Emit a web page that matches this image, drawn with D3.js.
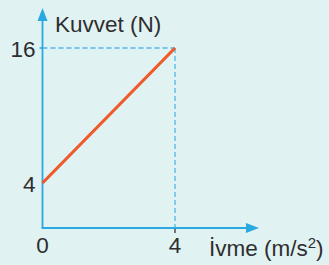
<!DOCTYPE html>
<html>
<head>
<meta charset="utf-8">
<script src="https://cdn.jsdelivr.net/npm/d3@7"></script>
<style>
body{margin:0;background:#e1f2f3;}
svg{display:block;}
text{font-family:"Liberation Sans",Arial,sans-serif;fill:#2e2e2e;}
</style>
</head>
<body>
<svg id="chart" width="329" height="265"></svg>
<script>
// data
let accel = [0, 4]
let force = [4, 16]
let xTicks = [0, 4]
let yTicks = [4, 16]
let xLabel = "İvme (m/s²)"
let yLabel = "Kuvvet (N)"

let axisColor = "#2aa8e0"
let svg = d3.select("#chart")

let xScale = d3.scaleLinear().domain([0, 4]).range([42.5, 175])
let yScale = d3.scaleLinear().domain([0, 16]).range([228, 48])

let x0 = xScale(0), y0 = yScale(0)

// dashed guides
let last = accel.length-1
svg.append("line")
    .attr("x1",x0).attr("x2",xScale(accel[last]))
    .attr("y1",yScale(force[last])).attr("y2",yScale(force[last]))
    .attr("stroke","#4cb8e8").attr("stroke-width",1.3).attr("stroke-dasharray","5,3")
svg.append("line")
    .attr("x1",xScale(accel[last])).attr("x2",xScale(accel[last]))
    .attr("y1",yScale(force[last])).attr("y2",y0)
    .attr("stroke","#4cb8e8").attr("stroke-width",1.3).attr("stroke-dasharray","5,3")

// axes
svg.append("line").attr("x1",x0).attr("y1",y0).attr("x2",x0).attr("y2",12)
    .attr("stroke",axisColor).attr("stroke-width",1.8)
svg.append("path").attr("d",`M${x0-5},${21} L${x0},${8} L${x0+5},${21} z`).attr("fill",axisColor)
svg.append("line").attr("x1",x0-0.9).attr("y1",y0).attr("x2",252).attr("y2",y0)
    .attr("stroke",axisColor).attr("stroke-width",1.8)
svg.append("path").attr("d",`M${246},${y0-5} L${259},${y0} L${246},${y0+5} z`).attr("fill",axisColor)

// small tick marks
svg.append("line").attr("x1",x0-3).attr("x2",x0).attr("y1",yScale(16)).attr("y2",yScale(16))
    .attr("stroke",axisColor).attr("stroke-width",1.5)
svg.append("line").attr("x1",xScale(4)).attr("x2",xScale(4)).attr("y1",y0+1).attr("y2",y0+5)
    .attr("stroke","#333").attr("stroke-width",1.3)

// the line
let line = d3.line().x(function(d,i){return xScale(accel[i])}).y(function(d){return yScale(d)})
svg.append("path").datum(force).attr("d",line)
    .attr("fill","none").attr("stroke","#ef5a2a").attr("stroke-width",3.2)

// tick labels
svg.selectAll(".ylab").data(yTicks).enter().append("text")
    .attr("class","ylab").attr("x",35.5).attr("y",function(d){return yScale(d)+8.5})
    .attr("text-anchor","end").attr("font-size",22.5).text(function(d){return d})
svg.selectAll(".xlab").data(xTicks).enter().append("text")
    .attr("class","xlab").attr("x",function(d){return xScale(d)}).attr("y",252.5)
    .attr("text-anchor","middle").attr("font-size",22.5).text(function(d){return d})

// axis titles
svg.append("text").attr("x",55).attr("y",31.5).attr("font-size",22.5).text(yLabel)
svg.append("text").attr("x",209).attr("y",256).attr("font-size",22.5)
    .html('İvme (m/s<tspan dy="-8" font-size="15">2</tspan><tspan dy="8">)</tspan>')
</script>
</body>
</html>
